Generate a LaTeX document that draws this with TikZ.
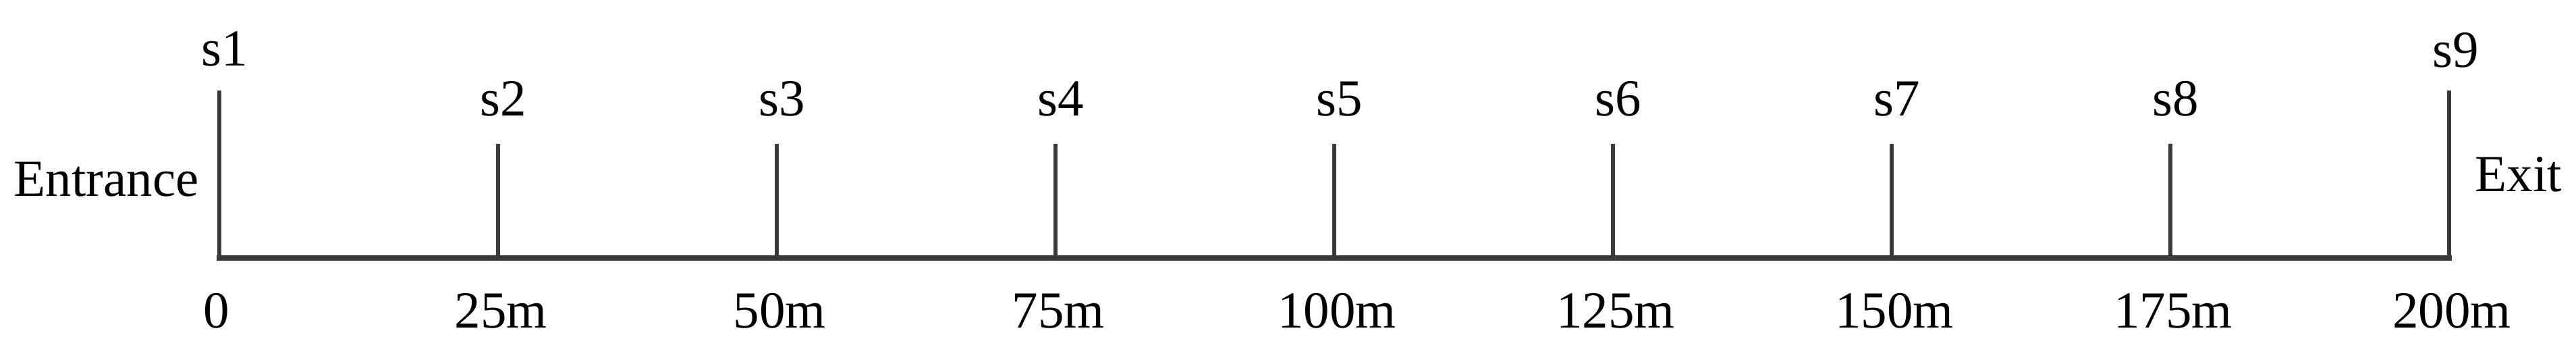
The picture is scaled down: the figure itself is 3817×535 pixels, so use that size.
\documentclass[tikz,border=0pt]{standalone}
\usepackage{fontspec}
\setmainfont{Liberation Serif}
\definecolor{linegray}{HTML}{3A3A3A}
\begin{document}
\begin{tikzpicture}[x=0.01cm,y=-0.01cm,
  lab/.style={inner sep=0pt,anchor=base,font=\fontsize{21.9}{26}\selectfont},
  tick/.style={draw=linegray,line width=1.45pt},
  endtick/.style={draw=linegray,line width=1.7pt},
  track/.style={draw=linegray,line width=2.3pt,line cap=rect}]
\useasboundingbox (0,0) rectangle (3817,535);
% baseline points and tick tops
\foreach \i in {0,...,8}{
  \coordinate (p\i) at ({325+413*\i},382);
}
\coordinate (q0) at (325,134);
\coordinate (q8) at (3629,134);
\foreach \i in {1,...,7}{
  \coordinate (q\i) at ({325+413*\i},213);
}
% ticks
\draw[endtick] (p0) -- (q0);
\draw[endtick] (p8) -- (q8);
\foreach \i in {1,...,7}{
  \draw[tick] (p\i) -- (q\i);
}
% track
\draw[track] (p0) -- (p8);
% station labels
\node[lab] (s1) at (333,97) {s1};
\node[lab] (s9) at (3639,99) {s9};
\foreach \i/\n in {1/2,2/3,3/4,4/5,5/6,6/7,7/8}{
  \node[lab] (s\n) at ({333+413*\i},171) {s\n};
}
% distance labels
\node[lab] (d0) at (321,485) {0};
\foreach \i/\d in {1/25m,2/50m,3/75m,4/100m,5/125m,6/150m,7/175m,8/200m}{
  \node[lab] (d\i) at ({329+413*\i},485) {\d};
}
% entrance / exit
\node[lab,anchor=base west] (entr) at (20,290) {Entrance};
\node[lab,anchor=base west] (exit) at (3667,283) {Exit};
\end{tikzpicture}
\end{document}
